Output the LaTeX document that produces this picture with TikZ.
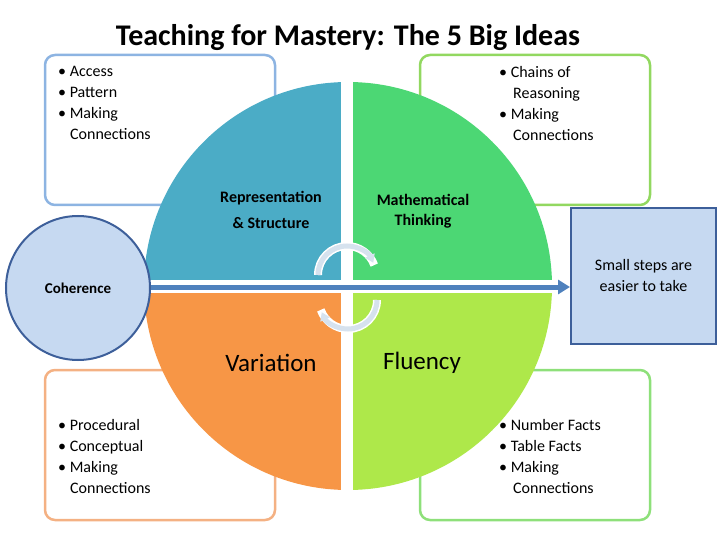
\documentclass[tikz,border=0pt]{standalone}
\usepackage{fontspec}
\setmainfont{Carlito}
\usetikzlibrary{arrows.meta}
\definecolor{qa}{HTML}{4BACC6}\definecolor{qb}{HTML}{4CD774}
\definecolor{qc}{HTML}{F79646}\definecolor{qd}{HTML}{AEE84A}
\definecolor{ba}{HTML}{8DB4E2}\definecolor{bb}{HTML}{92D860}
\definecolor{bc}{HTML}{F4B183}\definecolor{bd}{HTML}{8EE07A}
\definecolor{dk}{HTML}{3D5F9A}\definecolor{lb}{HTML}{C6D9F1}
\definecolor{arr}{HTML}{4F81BD}\definecolor{ca}{HTML}{D6E2EE}
\tikzset{box/.style={line width=2.5pt,rounded corners=10pt,fill=white},
 bl/.style={align=left,font=\fontsize{16}{21}\selectfont,anchor=north west,inner sep=0},
 ql/.style={align=center,font=\bfseries\fontsize{16}{26}\selectfont},
 big/.style={font=\fontsize{25}{28}\selectfont}}
\begin{document}
\begin{tikzpicture}[x=1pt,y=-1pt]
\useasboundingbox (0,0) rectangle (720,540);
\node[font=\bfseries\fontsize{30}{32}\selectfont] (title) at (348,38) {Teaching for Mastery: The 5 Big Ideas};
\draw[box,draw=ba] (45,55) rectangle (275,205);
\draw[box,draw=bb] (420,55) rectangle (650,205);
\draw[box,draw=bc] (45,370) rectangle (275,520);
\draw[box,draw=bd] (420,370) rectangle (650,520);
\coordinate (c) at (348,286);
\fill[qc] (c) -- ++(180:204) arc[start angle=180,end angle=90,x radius=204pt,y radius=-204pt] -- cycle;
\fill[qd] (c) -- ++(0:204) arc[start angle=0,end angle=90,x radius=204pt,y radius=-204pt] -- cycle;
\fill[qa] (c) -- ++(180:204) arc[start angle=180,end angle=270,x radius=204pt,y radius=-204pt] -- cycle;
\fill[qb] (c) -- ++(0:204) arc[start angle=0,end angle=-90,x radius=204pt,y radius=-204pt] -- cycle;
\fill[white] (341,78) rectangle (353,495);
\fill[white] (140,280) rectangle (560,293);
\node[bl] (t1) at (58,66) {• Access\\• Pattern\\• Making\\\hspace*{12pt}Connections};
\node[bl] (t2) at (499,66) {• Chains of\\\hspace*{14pt}Reasoning\\• Making\\\hspace*{14pt}Connections};
\node[bl] (t3) at (58,419) {• Procedural\\• Conceptual\\• Making\\\hspace*{12pt}Connections};
\node[bl] (t4) at (499,419) {• Number Facts\\• Table Facts\\• Making\\\hspace*{14pt}Connections};
\node[ql] (rs) at (271,210) {Representation\\\& Structure};
\node[ql,font=\bfseries\fontsize{16}{20}\selectfont] (mt) at (423,211) {Mathematical\\Thinking};
\node[big] (va) at (271,363) {Variation};
\node[big] (fl) at (422,363) {Fluency};
% cycle arrows
\draw[white,line width=8pt] (318,275) arc[start angle=180,end angle=20,radius=29pt];
\draw[ca,line width=5pt,-{Triangle[length=8pt,width=10pt]}] (318,275) arc[start angle=180,end angle=25,radius=29pt];
\draw[white,line width=8pt] (377,300) arc[start angle=0,end angle=-160,radius=29pt];
\draw[ca,line width=5pt,-{Triangle[length=8pt,width=10pt]}] (377,300) arc[start angle=0,end angle=-155,radius=29pt];
\node[draw=dk,line width=2pt,fill=lb,circle,minimum size=144pt,font=\bfseries\fontsize{15}{18}\selectfont,inner sep=0] (coh) at (78,288) {Coherence};
\node[draw=dk,line width=2pt,fill=lb,minimum width=145pt,minimum height=136pt,align=center,font=\fontsize{16}{21}\selectfont,anchor=north west] (ss) at (570,207) {Small steps are\\easier to take};
\draw[arr,line width=5pt,-{Triangle[length=12pt,width=14pt]}] (coh.east |- 0,287) coordinate (s) (s) -- (ss.west |- s);
\end{tikzpicture}
\end{document}
